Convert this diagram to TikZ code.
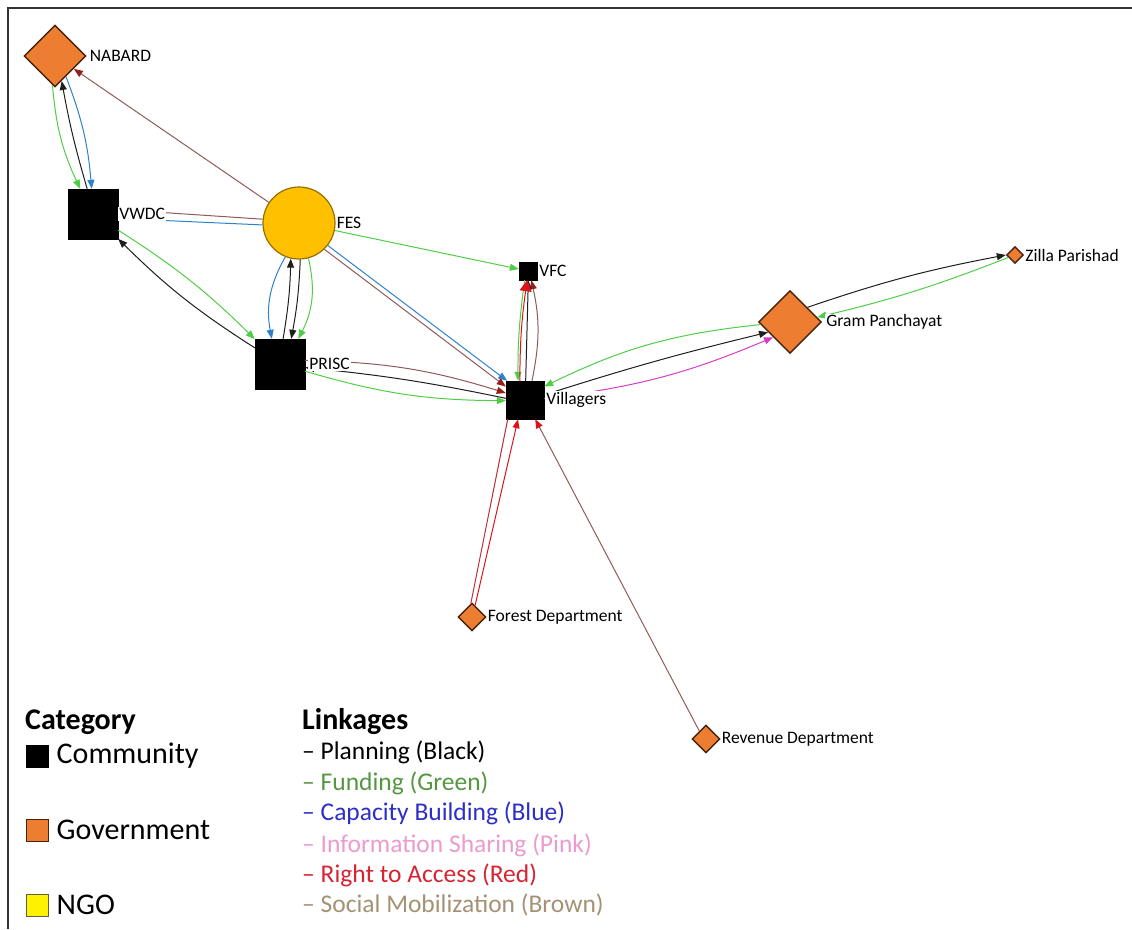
\documentclass[tikz,border=0pt]{standalone}
\usepackage{fontspec}
\setmainfont{Carlito}
\usetikzlibrary{positioning,arrows.meta,shapes.geometric}
\definecolor{govorange}{RGB}{237,125,49}
\definecolor{govedge}{RGB}{70,35,15}
\definecolor{ngoyellow}{RGB}{255,192,0}
\definecolor{ngoedge}{RGB}{150,110,0}
\definecolor{plancol}{RGB}{30,30,30}
\definecolor{fundcol}{RGB}{80,205,70}
\definecolor{capcol}{RGB}{45,130,200}
\definecolor{infocol}{RGB}{215,60,200}
\definecolor{rtacol}{RGB}{220,20,25}
\definecolor{smcol}{RGB}{145,90,90}
\definecolor{smtip}{RGB}{150,30,30}
% legend text colours
\definecolor{fundtxt}{RGB}{85,150,65}
\definecolor{captxt}{RGB}{45,45,200}
\definecolor{infotxt}{RGB}{235,155,205}
\definecolor{rtatxt}{RGB}{215,35,50}
\definecolor{smtxt}{RGB}{165,145,115}
\newcommand{\legfont}{\fontsize{30}{34}\selectfont}
\newcommand{\linkfont}{\fontsize{25.5}{29}\selectfont}
\tikzset{comm/.style={rectangle,draw=black,fill=black,inner sep=0pt},
            govt/.style={diamond,draw=govedge,line width=1.4pt,fill=govorange,inner sep=0pt,aspect=1},
            ngo/.style={circle,draw=ngoedge,line width=1.2pt,fill=ngoyellow,inner sep=0pt},
            lsq/.style={rectangle,line width=1pt,minimum size=22,inner sep=0pt},
            lbl/.style={fill=white,inner sep=1pt,font=\fontsize{17.5}{20}\selectfont},
            plan/.style={draw=plancol,line width=1pt,-{Triangle[length=9pt,width=7pt]}},
            fund/.style={draw=fundcol,line width=1pt,-{Triangle[length=9pt,width=7pt]}},
            capb/.style={draw=capcol,line width=1pt,-{Triangle[length=9pt,width=7pt]}},
            info/.style={draw=infocol,line width=1pt,-{Triangle[length=9pt,width=7pt]}},
            rta/.style={draw=rtacol,line width=1pt,-{Triangle[length=9pt,width=7pt]}},
            socm/.style={draw=smcol,line width=1pt,-{Triangle[length=9pt,width=7pt,color=smtip]}}}

\begin{document}
\begin{tikzpicture}[x=1pt,y=-1pt]
\useasboundingbox (0,0) rectangle (1132,929);
\draw[line width=2pt, black!80] (8,929) -- (8,8) -- (1132,8);
% actors
\node[govt, minimum size=62] at (55,56)(nabard){};
\node[comm, minimum size=50] at (93,214)(vwdc){};
\node[ngo, minimum size=72] at (299,223)(fes){};
\node[comm, minimum size=50] at (280,364)(prisc){};
\node[comm, minimum size=18] at (528,271)(vfc){};
\node[comm, minimum size=38] at (525,400)(villagers){};
\node[govt, minimum size=63] at (790,322)(gp){};
\node[govt, minimum size=17] at (1015,255)(zp){};
\node[govt, minimum size=28] at (472,617)(fd){};
\node[govt, minimum size=28] at (706,739)(rd){};
% linkages
\draw[fund] (nabard.-95) to[bend right=10] (vwdc.117);
\draw[plan] (vwdc.103) to[bend left=3] (nabard.-75);
\draw[capb] (nabard.-62) to[bend left=8] (vwdc.93);
\draw[socm] (fes) -- (nabard);
\draw[socm,-] (fes.174) -- (vwdc.10);
\draw[capb,-] (fes.183) -- (vwdc.-10);
\draw[plan] (prisc) to[bend left=6] (vwdc);
\draw[fund] (vwdc) to[bend left=6] (prisc);
\draw[capb] (fes.248) to[bend right=20] (prisc.108);
\draw[plan] (prisc.83) to[bend right=4] (fes.257);
\draw[plan] (fes.272) to[bend left=4] (prisc.66);
\draw[fund] (fes.285) to[bend left=20] (prisc.54);
\draw[fund] (fes) -- (vfc);
\draw[capb] (fes.-38) -- (villagers.133);
\draw[socm] (fes.-46) -- (villagers.145);
\draw[socm] (prisc.8) to[bend left=8] (villagers.160);
\draw[plan] (villagers.175) to[bend right=3] (prisc.-8);
\draw[fund] (prisc.-16) to[bend right=8] (villagers.182);
\draw[socm] (villagers.70) to[bend right=12] (vfc.-70);
\draw[plan] (villagers.88) -- (vfc.-88);
\draw[fund] (vfc.-110) to[bend right=4] (villagers.110);
\draw[rta, -{Triangle[length=11pt,width=12pt]}] (villagers.105) to[bend left=4] (vfc.-95);
\draw[fund] (gp.185) to[bend right=10] (villagers.35);
\draw[plan] (villagers.15) to[bend left=2] (gp.205);
\draw[info] (villagers.5) to[bend right=8] (gp.222);
\draw[plan] (gp.40) to[bend left=4] (zp.west);
\draw[fund] (zp.200) to[bend left=4] (gp.10);
\draw[rta] (fd.75) -- (villagers.-110);
\draw[draw=rtacol!60!smcol, line width=1pt] (villagers.-132) -- (fd.95);
\draw[socm, -{Triangle[length=9pt,width=7pt,color=rtacol]}] (rd.130) -- (villagers.-62);
% names
\node[lbl, right=2pt of nabard](nabardl){NABARD};
\node[lbl, right=0pt of vwdc](vwdcl){VWDC};
\node[lbl, right=0pt of fes](fesl){FES};
\node[lbl, right=3pt of prisc](priscl){PRISC};
\node[lbl, right=1pt of vfc](vfcl){VFC};
\node[lbl, right=1pt of villagers](villagersl){Villagers};
\node[lbl, right=3pt of gp](gpl){Gram Panchayat};
\node[lbl, right=0pt of zp](zpl){Zilla Parishad};
\node[lbl, right=0pt of fd](fdl){Forest Department};
\node[lbl, right=0pt of rd](rdl){Revenue Department};
% legend
\node[anchor=west, inner sep=0pt, font=\legfont\bfseries] at (25,722)(cat){Category};
\node[lsq, draw=black, fill=black] at (37,756)(lcomm){};
\node[anchor=west, inner sep=0pt, font=\legfont, right=8pt of lcomm](lcommt){Community};
\node[lsq, draw=govedge, fill=govorange] at (37,830)(lgov){};
\node[anchor=west, inner sep=0pt, font=\legfont, right=8pt of lgov](lgovt){Government};
\node[lsq, draw=black!70!yellow, fill=yellow] at (37,905)(lngo){};
\node[anchor=west, inner sep=0pt, font=\legfont, right=8pt of lngo](lngot){NGO};
\node[anchor=west, inner sep=0pt, font=\legfont\bfseries] at (302,722)(link){Linkages};
\node[anchor=west, inner sep=0pt, font=\linkfont] at (302,752)(l1){-- Planning (Black)};
\node[anchor=west, inner sep=0pt, font=\linkfont, text=fundtxt] at (302,783)(l2){-- Funding (Green)};
\node[anchor=west, inner sep=0pt, font=\linkfont, text=captxt] at (302,813)(l3){-- Capacity Building (Blue)};
\node[anchor=west, inner sep=0pt, font=\linkfont, text=infotxt] at (302,845)(l4){-- Information Sharing (Pink)};
\node[anchor=west, inner sep=0pt, font=\linkfont, text=rtatxt] at (302,875)(l5){-- Right to Access (Red)};
\node[anchor=west, inner sep=0pt, font=\linkfont, text=smtxt] at (302,905)(l6){-- Social Mobilization (Brown)};
\end{tikzpicture}
\end{document}
